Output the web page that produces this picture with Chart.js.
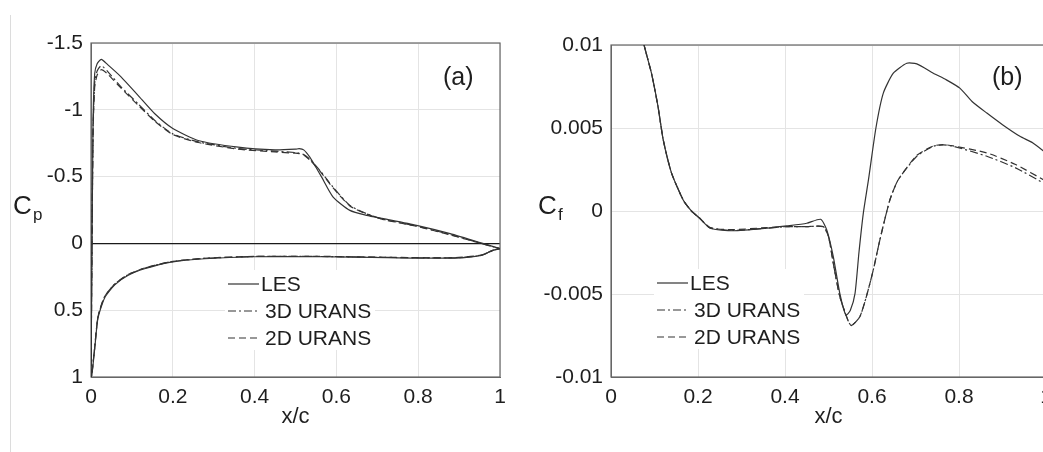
<!DOCTYPE html>
<html>
<head>
<meta charset="utf-8">
<script src="https://cdn.jsdelivr.net/npm/chart.js@4.4.1/dist/chart.umd.min.js"></script>
<style>
  html, body { margin: 0; padding: 0; background: #fff; overflow: hidden; }
  body { width: 1043px; height: 452px; position: relative; }
  #edge { position: absolute; left: 10px; top: 15px; width: 1px; height: 437px; background: #dcdcdc; }
  #boxA { position: absolute; left: 0; top: 0; width: 520px; height: 452px; }
  #boxB { position: absolute; left: 520px; top: 0; width: 546px; height: 452px; }
</style>
</head>
<body>
<div id="edge"></div>
<div id="boxA"><canvas id="cp" width="520" height="452"></canvas></div>
<div id="boxB"><canvas id="cf" width="546" height="452"></canvas></div>
<script>
// ---- (a) pressure coefficient, upper surface (LE -> TE) ----
const cpUpperX = [0, 0.002, 0.005, 0.009, 0.015, 0.025, 0.04, 0.074, 0.115, 0.156, 0.2, 0.262, 0.36, 0.45, 0.5, 0.509, 0.52, 0.535, 0.55, 0.564, 0.592, 0.633, 0.674, 0.715, 0.796, 0.878, 0.96, 1.0];
const cpUpperLES = [1.0, 0.2, -0.9, -1.27, -1.345, -1.377, -1.34, -1.245, -1.108, -0.97, -0.86, -0.77, -0.72, -0.70, -0.705, -0.709, -0.70, -0.646, -0.57, -0.496, -0.347, -0.247, -0.21, -0.185, -0.135, -0.073, 0.002, 0.04];
const cpUpper3D = [1.0, 0.2, -0.85, -1.2, -1.29, -1.33, -1.29, -1.17, -1.045, -0.92, -0.82, -0.76, -0.71, -0.69, -0.68, -0.675, -0.665, -0.63, -0.58, -0.53, -0.42, -0.284, -0.222, -0.18, -0.13, -0.066, 0.005, 0.04];
const cpUpper2D = [1.0, 0.2, -0.82, -1.17, -1.26, -1.30, -1.27, -1.16, -1.035, -0.915, -0.815, -0.755, -0.705, -0.685, -0.675, -0.672, -0.662, -0.625, -0.575, -0.525, -0.415, -0.28, -0.22, -0.178, -0.128, -0.064, 0.006, 0.04];
// ---- (a) lower surface (TE -> LE) ----
const cpLowerX = [1.0, 0.983, 0.954, 0.889, 0.726, 0.563, 0.40, 0.278, 0.196, 0.131, 0.09, 0.058, 0.033, 0.017, 0.009, 0.002, 0];
const cpLowerLES = [0.04, 0.052, 0.09, 0.11, 0.107, 0.10, 0.10, 0.115, 0.14, 0.19, 0.24, 0.31, 0.41, 0.56, 0.79, 0.99, 1.0];
const cpLower3D = [0.04, 0.05, 0.09, 0.108, 0.105, 0.098, 0.098, 0.112, 0.137, 0.185, 0.235, 0.305, 0.40, 0.55, 0.78, 0.98, 1.0];
const cpLower2D = [0.04, 0.05, 0.088, 0.107, 0.104, 0.097, 0.097, 0.111, 0.136, 0.184, 0.234, 0.304, 0.40, 0.55, 0.78, 0.98, 1.0];
const cpXTicks = [0, 0.2, 0.4, 0.6, 0.8, 1];
const cpYTicks = [-1.5, -1, -0.5, 0, 0.5, 1];

// ---- (b) skin friction coefficient ----
const cfLesX = [0.07, 0.076, 0.093, 0.108, 0.12, 0.139, 0.166, 0.185, 0.204, 0.228, 0.281, 0.358, 0.404, 0.45, 0.482, 0.496, 0.511, 0.526, 0.54, 0.55, 0.561, 0.57, 0.58, 0.592, 0.609, 0.626, 0.649, 0.68, 0.703, 0.741, 0.771, 0.802, 0.83, 0.864, 0.9, 0.94, 0.97, 1.0];
const cfLes = [0.0108, 0.01, 0.0083, 0.0063, 0.0043, 0.0023, 0.00066, 0.0, -0.00044, -0.00104, -0.00119, -0.00104, -0.0009, -0.00074, -0.0005, -0.00114, -0.00275, -0.00496, -0.00627, -0.006, -0.00496, -0.0025, -0.00014, 0.0019, 0.005, 0.0071, 0.0083, 0.0089, 0.00886, 0.0083, 0.0079, 0.0074, 0.0066, 0.0059, 0.0052, 0.0045, 0.0041, 0.0035];
const cf3dX = [0.07, 0.076, 0.093, 0.108, 0.12, 0.139, 0.166, 0.185, 0.204, 0.228, 0.281, 0.358, 0.404, 0.45, 0.488, 0.5, 0.511, 0.526, 0.546, 0.553, 0.572, 0.587, 0.603, 0.618, 0.641, 0.66, 0.703, 0.741, 0.764, 0.787, 0.864, 0.93, 1.0];
const cf3d = [0.0108, 0.01, 0.0083, 0.0063, 0.0043, 0.0023, 0.00066, 0.0, -0.00044, -0.001, -0.00117, -0.00104, -0.00094, -0.00094, -0.00094, -0.00154, -0.00315, -0.00516, -0.00667, -0.0069, -0.00637, -0.00516, -0.00355, -0.00175, 0.00066, 0.00187, 0.0033, 0.0039, 0.00398, 0.0039, 0.0033, 0.0026, 0.0016];
const cf2dX = [0.07, 0.076, 0.093, 0.108, 0.12, 0.139, 0.166, 0.185, 0.204, 0.228, 0.281, 0.358, 0.404, 0.45, 0.488, 0.5, 0.511, 0.526, 0.546, 0.553, 0.572, 0.587, 0.603, 0.618, 0.641, 0.66, 0.703, 0.741, 0.764, 0.787, 0.864, 0.93, 1.0];
const cf2d = [0.0108, 0.01, 0.0083, 0.0063, 0.0043, 0.0023, 0.00066, 0.0, -0.00044, -0.00102, -0.00112, -0.001, -0.00094, -0.00094, -0.00094, -0.00154, -0.00315, -0.00516, -0.00667, -0.0069, -0.00637, -0.00516, -0.00355, -0.00175, 0.00066, 0.00187, 0.00335, 0.00392, 0.004, 0.00392, 0.0035, 0.0028, 0.0018];
const cfXTicks = [0, 0.2, 0.4, 0.6, 0.8, 1];
const cfYTicks = [-0.01, -0.005, 0, 0.005, 0.01];

const seriesNames = ['LES', '3D URANS', '2D URANS'];
const dashes = [[], [8, 3, 2, 3], [7, 4]];

function pts(xs, ys) {
  return xs.map((x, i) => ({ x: x, y: ys[i] }));
}

const tickFont = { family: 'Liberation Sans, Arial, sans-serif', size: 21 };
const ink = '#1e1e1e';

// box frame round the plot, like the matlab axes
const framePlugin = {
  id: 'frame',
  beforeDatasetsDraw(chart) {
    const a = chart.chartArea, ctx = chart.ctx;
    ctx.save();
    ctx.strokeStyle = '#666';
    ctx.lineWidth = 1.2;
    ctx.strokeRect(a.left, a.top, a.right - a.left, a.bottom - a.top);
    ctx.restore();
  }
};

// legend inside the axes + panel texts (C_p, (a)...)
const panelPlugin = {
  id: 'panel',
  afterDatasetsDraw(chart, args, opts) {
    const a = chart.chartArea, ctx = chart.ctx;
    const lx = a.left + opts.legendX, ly = a.top + opts.legendY;
    ctx.save();
    ctx.fillStyle = '#fff';
    ctx.fillRect(lx - 3, ly - 14, 150, 80);
    ctx.font = '21px Liberation Sans, Arial, sans-serif';
    ctx.textBaseline = 'middle';
    chart.data.datasets.forEach((ds, i) => {
      const y = ly + i * 27;
      ctx.strokeStyle = '#333';
      ctx.lineWidth = 1.2;
      ctx.setLineDash(ds.borderDash || []);
      ctx.beginPath();
      ctx.moveTo(lx, y);
      ctx.lineTo(lx + 31, y);
      ctx.stroke();
      ctx.fillStyle = ink;
      ctx.fillText(ds.label, lx + (i === 0 ? 33 : 37), y + 1);
    });
    ctx.setLineDash([]);
    // axis name with subscript
    ctx.fillStyle = ink;
    ctx.textBaseline = 'alphabetic';
    ctx.font = '26px Liberation Sans, Arial, sans-serif';
    ctx.fillText('C', opts.nameX, 214);
    ctx.font = '17px Liberation Sans, Arial, sans-serif';
    ctx.fillText(opts.sub, opts.nameX + 20, 220);
    // panel tag
    ctx.font = '25px Liberation Sans, Arial, sans-serif';
    ctx.textBaseline = 'middle';
    ctx.fillText(opts.tag, opts.tagX, 78);
    ctx.restore();
  }
};

function makeDatasets(lists) {
  return lists.map((data, i) => ({
    label: seriesNames[i],
    data: data,
    showLine: true,
    borderColor: '#333',
    borderWidth: 1.2,
    borderDash: dashes[i],
    pointRadius: 0,
    tension: 0.2,
    fill: false
  }));
}

function axisOpts(min, max, tickVals, extra) {
  return Object.assign({
    type: 'linear',
    min: min,
    max: max,
    afterBuildTicks: s => { s.ticks = tickVals.map(v => ({ value: v })); },
    ticks: { font: tickFont, color: ink, padding: 8, callback: v => String(v), maxRotation: 0, autoSkip: false },
    grid: { color: '#e4e4e4', drawTicks: false },
    border: { color: '#666' }
  }, extra);
}

function makeChart(id, datasets, xTicks, yMin, yMax, yTicks, reverse, top, panel, zeroDark) {
  const yAxis = axisOpts(yMin, yMax, yTicks, {
    reverse: reverse,
    afterFit: s => { s.width = 91; }
  });
  if (zeroDark) {
    yAxis.grid.color = c => (c.tick && c.tick.value === 0) ? '#1a1a1a' : '#e4e4e4';
    yAxis.grid.lineWidth = c => (c.tick && c.tick.value === 0) ? 1.2 : 1;
  }
  return new Chart(document.getElementById(id).getContext('2d'), {
    type: 'scatter',
    data: { datasets: datasets },
    options: {
      responsive: false,
      animation: false,
      layout: { padding: { top: top, right: 20, left: 0, bottom: 0 } },
      scales: {
        x: axisOpts(0, 1, xTicks, {
          title: { display: true, text: 'x/c', font: { family: tickFont.family, size: 22 }, color: ink, padding: { top: 2, bottom: 22 } },
          afterFit: s => { s.height = 75; }
        }),
        y: yAxis
      },
      plugins: {
        legend: { display: false },
        tooltip: { enabled: false },
        panel: panel
      }
    },
    plugins: [framePlugin, panelPlugin]
  });
}

makeChart('cp', makeDatasets([
    pts(cpUpperX, cpUpperLES).concat(pts(cpLowerX, cpLowerLES)),
    pts(cpUpperX, cpUpper3D).concat(pts(cpLowerX, cpLower3D)),
    pts(cpUpperX, cpUpper2D).concat(pts(cpLowerX, cpLower2D))
  ]), cpXTicks, -1.5, 1, cpYTicks, true, 43,
  { legendX: 137, legendY: 241, nameX: 13, sub: 'p', tag: '(a)', tagX: 443 }, true);

makeChart('cf', makeDatasets([
    pts(cfLesX, cfLes),
    pts(cf3dX, cf3d),
    pts(cf2dX, cf2d)
  ]), cfXTicks, -0.01, 0.01, cfYTicks, false, 45,
  { legendX: 46, legendY: 238, nameX: 18, sub: 'f', tag: '(b)', tagX: 472 }, false);
</script>
</body>
</html>
